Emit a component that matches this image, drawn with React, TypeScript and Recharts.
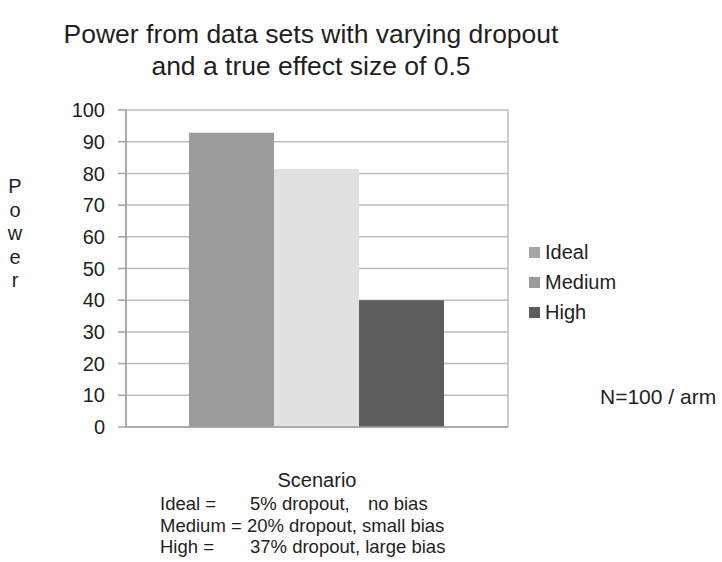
import { BarChart, Bar, XAxis, YAxis, CartesianGrid } from 'recharts';

const categories = ['Scenario'];
const seriesNames = ['Ideal', 'Medium', 'High'];
const idealValues = [92.8];
const mediumValues = [81.4];
const highValues = [40.0];
const yTicks = [0, 10, 20, 30, 40, 50, 60, 70, 80, 90, 100];

const barColors = ['#9a9b9d', '#e0e1e3', '#5c5d60'];
const legendColors = ['#a4a5a7', '#9a9b9d', '#5c5d60'];

const data = categories.map((c, i) => ({
  name: c,
  Ideal: idealValues[i],
  Medium: mediumValues[i],
  High: highValues[i],
}));

const font = '"Liberation Sans", Arial, sans-serif';
const textColor = '#231f20';

const abs = (left: number, top: number, size: number, extra = {}) => ({
  position: 'absolute' as const,
  left,
  top,
  fontSize: size,
  fontFamily: font,
  color: textColor,
  whiteSpace: 'pre' as const,
  lineHeight: 1,
  ...extra,
});

export default function App() {
  return (
    <div style={{ position: 'absolute', left: 0, top: 0, width: 722, height: 562, background: '#fff' }}>
      <BarChart
        width={722}
        height={562}
        data={data}
        margin={{ top: 110, left: 66, right: 214, bottom: 105 }}
        barGap={0}
        barCategoryGap="16.5%"
      >
        <CartesianGrid
          stroke="#bdbdbd"
          strokeWidth={1.5}
          verticalCoordinatesGenerator={({ offset }: any) => [offset.left, offset.left + offset.width]}
        />
        <XAxis
          dataKey="name"
          stroke="#a0a0a0"
          strokeWidth={1.5}
          tickLine={false}
          tick={{ fill: textColor, fontSize: 20, fontFamily: font }}
          tickMargin={40}
        />
        <YAxis
          width={60}
          domain={[0, 100]}
          ticks={yTicks}
          interval={0}
          stroke="#a0a0a0"
          strokeWidth={1.5}
          tickSize={8}
          tickMargin={13}
          tick={{ fill: textColor, fontSize: 20, fontFamily: font }}
        />
        {seriesNames.map((s, i) => (
          <Bar key={s} dataKey={s} fill={barColors[i]} isAnimationActive={false} />
        ))}
      </BarChart>

      <div style={abs(0, 18, 26.5, { width: 622, textAlign: 'center', lineHeight: '32px' })}>
        {'Power from data sets with varying dropout\nand a true effect size of 0.5'}
      </div>

      <div style={abs(7, 175, 20, { width: 16, textAlign: 'center', lineHeight: '23.5px' })}>
        {'P\no\nw\ne\nr'}
      </div>

      {seriesNames.map((s, i) => (
        <div key={s} style={abs(529, 242 + i * 30, 20, { display: 'flex', alignItems: 'center', height: 20 })}>
          <span style={{ display: 'inline-block', width: 11, height: 11, background: legendColors[i], marginRight: 5 }} />
          <span>{s}</span>
        </div>
      ))}

      <div style={abs(600, 386, 21)}>N=100 / arm</div>

      <div style={abs(160, 495, 18.5)}>Ideal =</div>
      <div style={abs(250, 495, 18.5)}>5% dropout,</div>
      <div style={abs(368, 495, 18.5)}>no bias</div>
      <div style={abs(160, 517, 18.5)}>Medium = 20% dropout, small bias</div>
      <div style={abs(160, 538, 18.5)}>High =</div>
      <div style={abs(250, 538, 18.5)}>37% dropout, large bias</div>
    </div>
  );
}
